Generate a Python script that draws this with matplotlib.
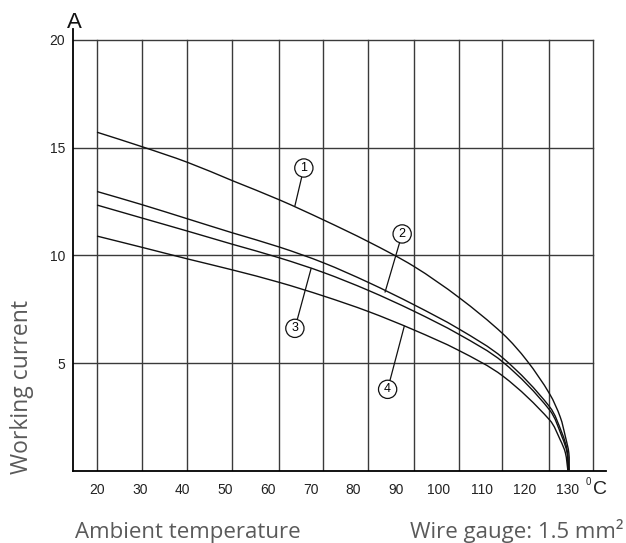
import numpy as np
import matplotlib
matplotlib.use("Agg")
import matplotlib.pyplot as plt
from matplotlib.path import Path
from matplotlib.patches import PathPatch


# -----------------------------
# DATA
# -----------------------------
t1 = [20, 30.5, 41.2, 51.7, 62.7, 73, 83.5, 94.1, 104.7, 115, 120.6, 125.9, 128.4, 129.6, 130.4, 130.5]
i1 = [15.72, 15.05, 14.32, 13.47, 12.58, 11.65, 10.64, 9.5, 8.05, 6.36, 5.12, 3.58, 2.5, 1.59, 0.84, 0]

t2 = [20, 30.5, 41.2, 51.7, 62.7, 73, 83.5, 94.1, 104.6, 115, 125.9, 128.8, 130, 130.4]
i2 = [12.97, 12.36, 11.70, 11.05, 10.39, 9.66, 8.75, 7.72, 6.60, 5.24, 2.98, 1.76, 0.97, 0]

t3 = [20, 30.5, 41.2, 51.7, 62.7, 73, 83.5, 94.1, 104.6, 115, 125.9, 128.8, 130, 130.2]
i3 = [12.34, 11.74, 11.13, 10.52, 9.89, 9.21, 8.38, 7.42, 6.35, 5.05, 2.83, 1.59, 0.84, 0]

t4 = [20, 30.5, 41.2, 51.7, 62.7, 73, 83.5, 94.1, 104.6, 115, 125.9, 128.4, 129.6, 130.2]
i4 = [10.90, 10.38, 9.84, 9.33, 8.75, 8.12, 7.40, 6.55, 5.60, 4.40, 2.37, 1.44, 0.84, 0]

curve_names = ["1", "2", "3", "4"]
x_ticks = [20, 30, 40, 50, 60, 70, 80, 90, 100, 110, 120, 130]
y_ticks = [5, 10, 15, 20]

# grid of the original drawing does not sit exactly on the tick labels
grid_x = [20, 30.55, 41.1, 51.7, 62.5, 72.8, 83.3, 94.1, 104.6, 114.8, 125.8, 136.1]

# circled labels: (text pos) -> (point on curve)
label_xy = [(68.4, 14.06), (91.4, 11.0), (66.3, 6.62), (88.0, 3.79)]
label_target = [(66.3, 12.3), (87.4, 8.3), (70.1, 9.4), (91.9, 6.72)]


def smooth_path(xs, ys, sx=4.273, sy=21.55):
    # cubic bezier through the read points (tangents from neighbours)
    P = np.column_stack([np.asarray(xs, float) * sx, np.asarray(ys, float) * sy])
    n = len(P)
    verts = [P[0]]
    codes = [Path.MOVETO]
    for i in range(n - 1):
        p0 = P[i - 1] if i > 0 else P[i]
        p1, p2 = P[i], P[i + 1]
        p3 = P[i + 2] if i + 2 < n else P[i + 1]
        d = np.linalg.norm(p2 - p1)
        ta = p2 - p0
        tb = p3 - p1
        ta = ta / np.linalg.norm(ta) * d / 3
        tb = tb / np.linalg.norm(tb) * d / 3
        verts += [p1 + ta, p2 - tb, p2]
        codes += [Path.CURVE4] * 3
    verts = np.array(verts) / [sx, sy]
    return Path(verts, codes)


# -----------------------------
# FIGURE
# -----------------------------
fig = plt.figure(figsize=(6.26, 5.43), dpi=100)
ax = fig.add_axes([73.3 / 626, 72 / 543, (606 - 73.3) / 626, (471 - 29) / 543])

ax.set_xlim(14.45, 139.1)
ax.set_ylim(0, 20.51)

grid_col = "#3a3a3a"
for g in grid_x:
    ax.plot([g, g], [0, 20], color=grid_col, lw=1.0, zorder=1)
for g in y_ticks:
    ax.plot([ax.get_xlim()[0], grid_x[-1]], [g, g], color=grid_col, lw=1.0, zorder=1)

for t, cur in [(t1, i1), (t2, i2), (t3, i3), (t4, i4)]:
    ax.add_patch(PathPatch(smooth_path(t, cur), fill=False, ec="#111111",
                           lw=1.0, zorder=3, transform=ax.transData))

for name, xy, target in zip(curve_names, label_xy, label_target):
    ax.annotate(name, xy=target, xytext=xy, ha="center", va="center",
                fontsize=9, family="Liberation Sans",
                bbox=dict(boxstyle="circle,pad=0.25", fc="white", ec="#111111", lw=0.9),
                arrowprops=dict(arrowstyle="-", color="#111111", lw=0.9,
                                shrinkA=0, shrinkB=0),
                zorder=4)

ax.spines["top"].set_visible(False)
ax.spines["right"].set_visible(False)
ax.spines["left"].set_linewidth(1.3)
ax.spines["bottom"].set_linewidth(1.3)

ax.set_xticks(x_ticks)
ax.set_yticks(y_ticks)
ax.tick_params(length=0, labelsize=10, colors="#222222")
ax.tick_params(axis="x", pad=9)
ax.tick_params(axis="y", pad=6)
for lab in ax.get_xticklabels() + ax.get_yticklabels():
    lab.set_family("Liberation Sans")

# unit marks
fig.text(74 / 626, 1 - 28.5 / 543, "A", ha="center", va="baseline",
         fontsize=16, family="Liberation Sans", color="#111111")
fig.text(588 / 626, 1 - 482 / 543, "0", ha="center", va="center",
         fontsize=7, family="Liberation Sans", color="#222222")
fig.text(600 / 626, 1 - 490 / 543, "C", ha="center", va="center",
         fontsize=14, family="Liberation Sans", color="#222222")

# captions
cap_col = "#5a5a5a"
fig.text(188 / 626, 5 / 543, "Ambient temperature", ha="center", va="baseline",
         fontsize=16, family="Open Sans", color=cap_col)
fig.text(623 / 626, 5 / 543, "Wire gauge: 1.5 mm²", ha="right", va="baseline",
         fontsize=16, family="Open Sans", color=cap_col)
fig.text(22 / 626, 1 - 387 / 543, "Working current", rotation=90, ha="center", va="center",
         fontsize=16.5, family="Open Sans", color=cap_col)

fig.savefig("out.png", dpi=100)
